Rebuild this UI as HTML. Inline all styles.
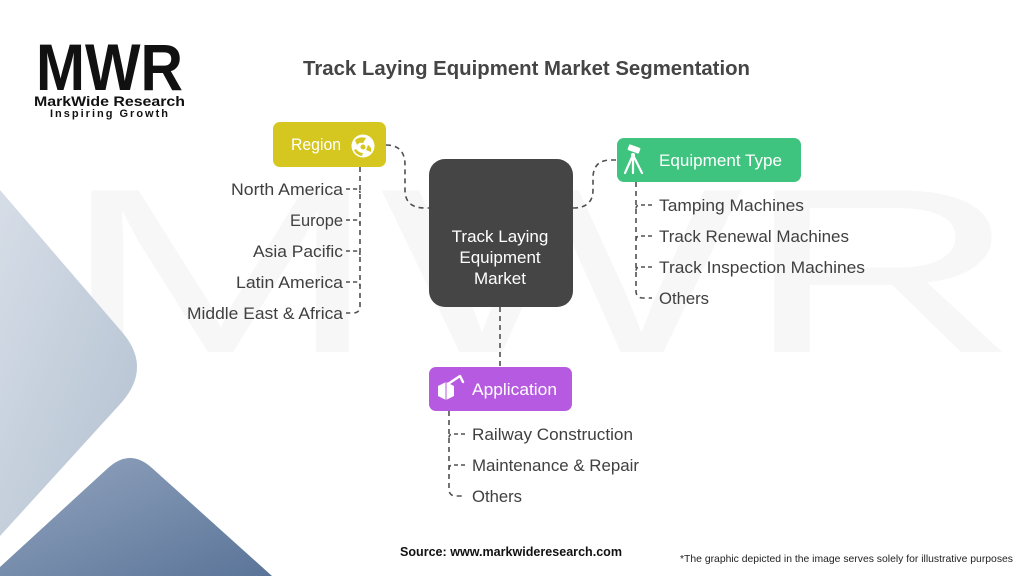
<!DOCTYPE html>
<html>
<head>
<meta charset="utf-8">
<style>
  html,body{margin:0;padding:0;background:#fff;}
  svg{display:block;}
  text{font-family:"Liberation Sans", Arial, sans-serif;}
</style>
</head>
<body>
<svg width="1024" height="576" viewBox="0 0 1024 576" xmlns="http://www.w3.org/2000/svg">
  <defs>
    <linearGradient id="gLight" x1="0" y1="0" x2="1" y2="1">
      <stop offset="0" stop-color="#d6dde7"/>
      <stop offset="1" stop-color="#b3c1d1"/>
    </linearGradient>
    <linearGradient id="gDark" x1="0" y1="0" x2="1" y2="1">
      <stop offset="0" stop-color="#93a5bf"/>
      <stop offset="1" stop-color="#5a7498"/>
    </linearGradient>
  </defs>

  <rect width="1024" height="576" fill="#ffffff"/>

  <!-- faint watermark -->
  <text x="60" y="352" font-size="235" fill="#f7f7f7" textLength="960" lengthAdjust="spacingAndGlyphs">MWR</text>

  <!-- background decorative shapes -->
  <path d="M0,190 L122,332 Q152,367 122,402 L0,536 Z" fill="url(#gLight)"/>
  <path d="M0,567 L108,468 Q130,448 152,468 L272,576 L0,576 Z" fill="url(#gDark)"/>

  <!-- logo -->
  <text x="36" y="90" font-size="66" font-weight="bold" fill="#111" textLength="147" lengthAdjust="spacingAndGlyphs">MWR</text>
  <text x="34" y="106" font-size="14" font-weight="bold" fill="#111" textLength="151" lengthAdjust="spacingAndGlyphs">MarkWide Research</text>
  <text x="50" y="117" font-size="11" font-weight="bold" fill="#111" textLength="118" lengthAdjust="spacing">Inspiring Growth</text>

  <!-- title -->
  <text x="303" y="75" font-size="20.5" font-weight="bold" fill="#454545" textLength="447" lengthAdjust="spacingAndGlyphs">Track Laying Equipment Market Segmentation</text>

  <!-- connectors -->
  <g fill="none" stroke="#505050" stroke-width="1.6" stroke-dasharray="5 4">
    <path d="M386,145 Q405,145 405,165 L405,190 Q405,208 425,208 L429,208"/>
    <path d="M573,208 Q593,208 593,190 L593,178 Q593,160 611,160 L617,160"/>
    <path d="M500,307 L500,367"/>
    <path d="M360,167 L360,306 Q360,313 353,313 L346,313"/>
    <path d="M636,182 L636,291 Q636,298 643,298 L652,298"/>
    <path d="M449,411 L449,489 Q449,496 456,496 L465,496"/>
  </g>
  <g fill="none" stroke="#505050" stroke-width="1.6" stroke-dasharray="4 3">
    <path d="M346,189 L356,189 Q360,189 360,193"/>
    <path d="M346,220 L356,220 Q360,220 360,224"/>
    <path d="M346,251 L356,251 Q360,251 360,255"/>
    <path d="M346,282 L356,282 Q360,282 360,286"/>
    <path d="M652,205 L640,205 Q636,205 636,209"/>
    <path d="M652,236 L640,236 Q636,236 636,240"/>
    <path d="M652,267 L640,267 Q636,267 636,271"/>
    <path d="M465,434 L453,434 Q449,434 449,438"/>
    <path d="M465,465 L453,465 Q449,465 449,469"/>
  </g>

  <!-- central node -->
  <rect x="429" y="159" width="144" height="148" rx="16" fill="#454545"/>
  <text x="500" y="242" font-size="17" fill="#ffffff" text-anchor="middle">Track Laying</text>
  <text x="500" y="263" font-size="17" fill="#ffffff" text-anchor="middle">Equipment</text>
  <text x="500" y="284" font-size="17" fill="#ffffff" text-anchor="middle">Market</text>

  <!-- Region node -->
  <rect x="273" y="122" width="113" height="45" rx="7" fill="#d5c71f"/>
  <text x="291" y="150" font-size="17" fill="#ffffff" textLength="50" lengthAdjust="spacingAndGlyphs">Region</text>
  <circle cx="363" cy="146" r="11.5" fill="#ffffff"/>
  <path d="M355,140 Q360,136 366,138 L363,143 Q359,142 357,145 Z" fill="#d5c71f"/>
  <path d="M368,145 Q372,147 371,152 L366,150 Z" fill="#d5c71f"/>
  <path d="M356,149 Q359,153 363,153 L362,156 Q356,155 354,150 Z" fill="#d5c71f"/>
  <circle cx="363" cy="147" r="2.5" fill="#d5c71f"/>

  <!-- Equipment Type node -->
  <rect x="617" y="138" width="184" height="44" rx="7" fill="#3ec47f"/>
  <text x="659" y="166" font-size="17" fill="#ffffff" textLength="123" lengthAdjust="spacingAndGlyphs">Equipment Type</text>
  <g stroke="#ffffff" stroke-width="2.2" fill="none" stroke-linecap="round">
    <path d="M633,155 L625,173"/>
    <path d="M633,155 L633,173"/>
    <path d="M633,155 L642,173"/>
  </g>
  <rect x="628" y="146" width="12" height="6" rx="1" fill="#ffffff" transform="rotate(20 634 149)"/>
  <circle cx="633" cy="155" r="2" fill="#ffffff"/>

  <!-- Application node -->
  <rect x="429" y="367" width="143" height="44" rx="7" fill="#b65be1"/>
  <text x="472" y="395" font-size="17" fill="#ffffff" textLength="85" lengthAdjust="spacingAndGlyphs">Application</text>
  <path d="M438,386 L446,382 L454,386 L454,396 L446,400 L438,396 Z" fill="#ffffff"/>
  <path d="M446,382 L446,400" stroke="#b65be1" stroke-width="1"/>
  <path d="M448,384 L460,376 L463,382" stroke="#ffffff" stroke-width="2.4" fill="none" stroke-linecap="round" stroke-linejoin="round"/>

  <!-- Region items -->
  <g font-size="16.5" fill="#404040">
    <text x="231" y="195" textLength="112" lengthAdjust="spacingAndGlyphs">North America</text>
    <text x="290" y="226" textLength="53" lengthAdjust="spacingAndGlyphs">Europe</text>
    <text x="253" y="257" textLength="90" lengthAdjust="spacingAndGlyphs">Asia Pacific</text>
    <text x="236" y="288" textLength="107" lengthAdjust="spacingAndGlyphs">Latin America</text>
    <text x="187" y="319" textLength="156" lengthAdjust="spacingAndGlyphs">Middle East &amp; Africa</text>
  </g>

  <!-- Equipment items -->
  <g font-size="16.5" fill="#404040">
    <text x="659" y="211" textLength="145" lengthAdjust="spacingAndGlyphs">Tamping Machines</text>
    <text x="659" y="242" textLength="190" lengthAdjust="spacingAndGlyphs">Track Renewal Machines</text>
    <text x="659" y="273" textLength="206" lengthAdjust="spacingAndGlyphs">Track Inspection Machines</text>
    <text x="659" y="304" textLength="50" lengthAdjust="spacingAndGlyphs">Others</text>
  </g>

  <!-- Application items -->
  <g font-size="16.5" fill="#404040">
    <text x="472" y="440" textLength="161" lengthAdjust="spacingAndGlyphs">Railway Construction</text>
    <text x="472" y="471" textLength="167" lengthAdjust="spacingAndGlyphs">Maintenance &amp; Repair</text>
    <text x="472" y="502" textLength="50" lengthAdjust="spacingAndGlyphs">Others</text>
  </g>

  <!-- footer -->
  <text x="400" y="556" font-size="12.5" font-weight="bold" fill="#111" textLength="222" lengthAdjust="spacingAndGlyphs">Source: www.markwideresearch.com</text>
  <text x="680" y="562" font-size="10.5" fill="#222" textLength="333" lengthAdjust="spacingAndGlyphs">*The graphic depicted in the image serves  solely for illustrative purposes</text>
</svg>
</body>
</html>
